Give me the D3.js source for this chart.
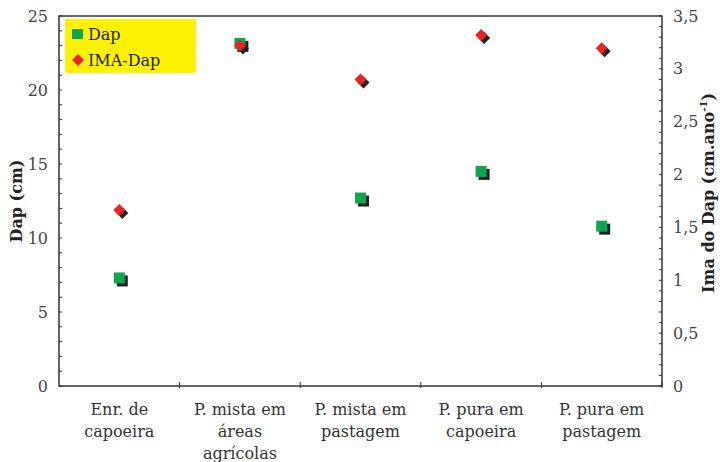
<!DOCTYPE html>
<html>
<head>
<meta charset="utf-8">
<script src="https://cdn.jsdelivr.net/npm/d3@7"></script>
<style>
  body { margin: 0; background: #fff; }
  text { font-family: "DejaVu Serif", serif; }
</style>
</head>
<body>
<script>
let categories = [["Enr. de", "capoeira"], ["P. mista em", "áreas", "agrícolas"], ["P. mista em", "pastagem"], ["P. pura em", "capoeira"], ["P. pura em", "pastagem"]];
let dap = [7.3, 23.15, 12.7, 14.5, 10.8];
let imaDap = [1.665, 3.22, 2.9, 3.32, 3.195];
let leftTicks = [0, 5, 10, 15, 20, 25];
let rightTicks = [0, 0.5, 1, 1.5, 2, 2.5, 3, 3.5];

let width = 720, height = 462;
let margin = {top: 16, right: 58, bottom: 76, left: 59};
let svg = d3.select("body").append("svg").attr("width", width).attr("height", height);

let x = d3.scaleBand().domain(d3.range(categories.length)).range([margin.left, width - margin.right]);
let yL = d3.scaleLinear().domain([0, 25]).range([height - margin.bottom, margin.top]);
let yR = d3.scaleLinear().domain([0, 3.5]).range([height - margin.bottom, margin.top]);

let axisColor = "#333";
let plotL = margin.left, plotR = width - margin.right, plotT = margin.top, plotB = height - margin.bottom;

// frame
svg.append("rect")
    .attr("x", plotL).attr("y", plotT)
    .attr("width", plotR - plotL).attr("height", plotB - plotT)
    .attr("fill", "none").attr("stroke", axisColor).attr("stroke-width", 1.5);

// left minor ticks
svg.append("g").selectAll("line")
    .data(d3.range(0, 26))
    .join("line")
    .attr("x1", plotL).attr("x2", plotL + 3)
    .attr("y1", d => yL(d)).attr("y2", d => yL(d))
    .attr("stroke", axisColor);

// right minor ticks
svg.append("g").selectAll("line")
    .data(d3.range(0, 36).map(d => d / 10))
    .join("line")
    .attr("x1", plotR).attr("x2", plotR - 3)
    .attr("y1", d => yR(d)).attr("y2", d => yR(d))
    .attr("stroke", axisColor);

// left axis labels
svg.append("g").selectAll("text")
    .data(leftTicks)
    .join("text")
    .attr("x", 48).attr("y", d => yL(d))
    .attr("dy", "0.35em")
    .attr("text-anchor", "end")
    .attr("font-size", 16).attr("fill", "#444")
    .text(d => d);

// right axis labels
svg.append("g").selectAll("text")
    .data(rightTicks)
    .join("text")
    .attr("x", 673).attr("y", d => yR(d))
    .attr("dy", "0.35em")
    .attr("font-size", 16).attr("fill", "#444")
    .text(d => String(d).replace(".", ","));

// x ticks at band boundaries
svg.append("g").selectAll("line")
    .data(d3.range(1, categories.length + 1))
    .join("line")
    .attr("x1", d => x(d - 1) + x.bandwidth()).attr("x2", d => x(d - 1) + x.bandwidth())
    .attr("y1", plotB - 4).attr("y2", plotB + 2)
    .attr("stroke", axisColor);

// category labels
svg.append("g").selectAll("text")
    .data(categories)
    .join("text")
    .attr("text-anchor", "middle")
    .attr("font-size", 16).attr("fill", "#333")
    .attr("transform", (d, i) => `translate(${x(i) + x.bandwidth() / 2},${plotB + 29})`)
    .selectAll("tspan")
    .data(d => d)
    .join("tspan")
    .attr("x", 0)
    .attr("y", (d, i) => i * 22)
    .text(d => d);

// axis titles
svg.append("text")
    .attr("transform", `translate(22,${yL(12.5)}) rotate(-90)`)
    .attr("text-anchor", "middle")
    .attr("font-size", 16).attr("font-weight", "bold").attr("fill", "#222")
    .text("Dap (cm)");

let rt = svg.append("text")
    .attr("transform", `translate(714,${yR(1.75) - 8}) rotate(-90)`)
    .attr("text-anchor", "middle")
    .attr("font-size", 16).attr("font-weight", "bold").attr("fill", "#222");
rt.append("tspan").text("Ima do Dap (cm.ano");
rt.append("tspan").attr("font-size", 10).attr("dy", -7).text("-1");
rt.append("tspan").attr("dy", 7).text(")");

let diamond = d3.symbol().type(d3.symbolSquare).size(72);
let cx = i => x(i) + x.bandwidth() / 2;

// Dap squares with shadow
let sq = svg.append("g");
sq.selectAll("rect.shadow")
    .data(dap)
    .join("rect")
    .attr("class", "shadow")
    .attr("x", (d, i) => cx(i) - 5.5 + 3).attr("y", d => yL(d) - 5.5 + 3)
    .attr("width", 11).attr("height", 11)
    .attr("fill", "#222");
sq.selectAll("rect.mark")
    .data(dap)
    .join("rect")
    .attr("class", "mark")
    .attr("x", (d, i) => cx(i) - 5.5).attr("y", d => yL(d) - 5.5)
    .attr("width", 11).attr("height", 11)
    .attr("fill", "#0fa650");

// IMA-Dap diamonds with shadow
let dm = svg.append("g");
dm.selectAll("path.shadow")
    .data(imaDap)
    .join("path")
    .attr("class", "shadow")
    .attr("d", diamond)
    .attr("transform", (d, i) => `translate(${cx(i) + 3},${yR(d) + 3}) rotate(45)`)
    .attr("fill", "#222");
dm.selectAll("path.mark")
    .data(imaDap)
    .join("path")
    .attr("class", "mark")
    .attr("d", diamond)
    .attr("transform", (d, i) => `translate(${cx(i)},${yR(d)}) rotate(45)`)
    .attr("fill", "#ee2222");

// legend
let lg = svg.append("g");
lg.append("rect")
    .attr("x", 65).attr("y", 19).attr("width", 131).attr("height", 54)
    .attr("fill", "#fff200");
lg.append("rect")
    .attr("x", 72).attr("y", 29).attr("width", 11).attr("height", 10)
    .attr("fill", "#0fa650");
lg.append("path")
    .attr("d", diamond)
    .attr("transform", "translate(78,60) rotate(45)")
    .attr("fill", "#ee2222");
lg.append("text").attr("x", 88).attr("y", 40).attr("font-size", 16).attr("fill", "#222").text("Dap");
lg.append("text").attr("x", 88).attr("y", 66).attr("font-size", 16).attr("fill", "#222").text("IMA-Dap");
</script>
</body>
</html>
